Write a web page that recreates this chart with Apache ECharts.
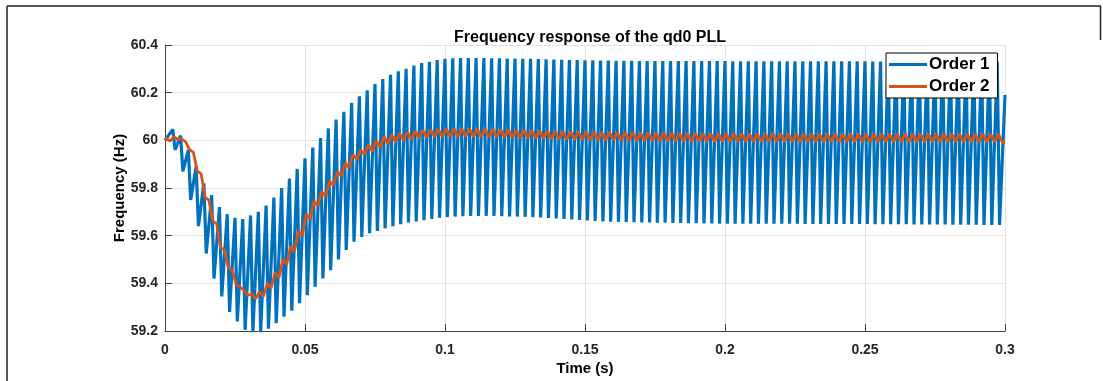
<!DOCTYPE html>
<html>
<head>
<meta charset="utf-8">
<script src="https://cdn.jsdelivr.net/npm/echarts@6/dist/echarts.min.js"></script>
<style>
html,body{margin:0;padding:0;background:#fff;}
#chart{width:1103px;height:381px;}
</style>
</head>
<body>
<div id="chart"></div>
<script>
// ---- data ----
const ripplePeriod = 1 / 360;          // s, ripple period (108 cycles in 0.3 s)
const startValue = 60.0;
const xTicks = [0, 0.05, 0.1, 0.15, 0.2, 0.25, 0.3];
const yTicks = [59.2, 59.4, 59.6, 59.8, 60, 60.2, 60.4];

// Order 1: peak (at k*T) and trough (just after) of each ripple cycle k = 1..107
const order1Peaks = [
 60.046, 60.02, 59.96, 59.89, 59.82, 59.77, 59.72, 59.69, 59.675, 59.67,
 59.685, 59.70, 59.726, 59.76, 59.80, 59.84, 59.88, 59.925, 59.97, 60.01,
 60.05, 60.087, 60.12, 60.157, 60.185, 60.21, 60.236, 60.257, 60.275, 60.29,
 60.30, 60.314, 60.324, 60.33, 60.337, 60.342, 60.344, 60.345, 60.345, 60.345,
 60.345, 60.344, 60.344, 60.343, 60.343, 60.342, 60.342, 60.341, 60.340, 60.339,
 60.338, 60.337, 60.337, 60.336, 60.336, 60.335, 60.335, 60.334, 60.334, 60.334,
 60.333, 60.333, 60.333, 60.333, 60.333, 60.333, 60.333, 60.333, 60.333, 60.333,
 60.333, 60.333, 60.332, 60.332, 60.332, 60.332, 60.332, 60.332, 60.332, 60.332,
 60.332, 60.332, 60.332, 60.332, 60.332, 60.332, 60.332, 60.332, 60.332, 60.332,
 60.331, 60.331, 60.331, 60.331, 60.331, 60.331, 60.331, 60.331, 60.331, 60.331,
 60.331, 60.331, 60.33, 60.33, 60.33, 60.33, 60.331
];
const order1Troughs = [
 59.96, 59.87, 59.75, 59.64, 59.525, 59.42, 59.345, 59.28, 59.24, 59.205,
 59.195, 59.195, 59.21, 59.233, 59.26, 59.285, 59.317, 59.35, 59.386, 59.42,
 59.455, 59.50, 59.54, 59.575, 59.595, 59.61, 59.62, 59.63, 59.64, 59.648,
 59.655, 59.66, 59.665, 59.67, 59.675, 59.678, 59.68, 59.682, 59.683, 59.683,
 59.683, 59.683, 59.682, 59.681, 59.68, 59.679, 59.678, 59.676, 59.674, 59.672,
 59.67, 59.668, 59.666, 59.664, 59.662, 59.66, 59.659, 59.658, 59.657, 59.656,
 59.655, 59.655, 59.654, 59.654, 59.653, 59.653, 59.652, 59.652, 59.651, 59.651,
 59.65, 59.65, 59.65, 59.65, 59.65, 59.65, 59.65, 59.65, 59.65, 59.65,
 59.65, 59.649, 59.649, 59.649, 59.649, 59.649, 59.649, 59.649, 59.649, 59.649,
 59.648, 59.648, 59.648, 59.648, 59.648, 59.647, 59.647, 59.647, 59.647, 59.647,
 59.646, 59.646, 59.646, 59.646, 59.645, 59.645, 59.645
];
const order1End = 60.19;

// Order 2: ripple high and low of each cycle k = 0..107
const order2Highs = [
 60.009, 60.016, 60.006, 59.961, 59.871, 59.761, 59.661, 59.551, 59.466, 59.396,
 59.37, 59.355, 59.365, 59.40, 59.445, 59.50, 59.555, 59.62, 59.69, 59.745,
 59.785, 59.83, 59.87, 59.905, 59.94, 59.96, 59.983, 60.0, 60.015, 60.023,
 60.03, 60.035, 60.04, 60.043, 60.045, 60.046, 60.049, 60.049, 60.049, 60.049,
 60.048, 60.048, 60.047, 60.046, 60.045, 60.044, 60.043, 60.042, 60.041, 60.04,
 60.039, 60.038, 60.037, 60.037, 60.036, 60.035, 60.034, 60.034, 60.033, 60.033,
 60.032, 60.032, 60.032, 60.031, 60.031, 60.031, 60.03, 60.03, 60.03, 60.029,
 60.029, 60.029, 60.029, 60.028, 60.028, 60.028, 60.028, 60.028, 60.028, 60.028,
 60.028, 60.027, 60.027, 60.027, 60.027, 60.027, 60.027, 60.027, 60.027, 60.027,
 60.027, 60.027, 60.027, 60.027, 60.027, 60.027, 60.027, 60.027, 60.027, 60.027,
 60.027, 60.027, 60.027, 60.027, 60.027, 60.027, 60.027, 60.027
];
const order2Lows = [
 59.997, 60.004, 59.994, 59.949, 59.859, 59.749, 59.649, 59.539, 59.454, 59.384,
 59.35, 59.335, 59.345, 59.38, 59.425, 59.48, 59.535, 59.60, 59.67, 59.725,
 59.765, 59.81, 59.85, 59.885, 59.92, 59.94, 59.953, 59.97, 59.985, 59.993,
 60.0, 60.005, 60.01, 60.013, 60.015, 60.016, 60.015, 60.015, 60.015, 60.015,
 60.014, 60.014, 60.013, 60.012, 60.011, 60.01, 60.009, 60.008, 60.007, 60.006,
 60.005, 60.004, 60.003, 60.003, 60.002, 60.001, 60.0, 60.0, 59.999, 59.999,
 59.998, 59.998, 59.998, 59.997, 59.997, 59.997, 59.996, 59.996, 59.996, 59.995,
 59.995, 59.995, 59.995, 59.994, 59.994, 59.994, 59.994, 59.994, 59.994, 59.994,
 59.994, 59.993, 59.993, 59.993, 59.993, 59.993, 59.993, 59.993, 59.993, 59.993,
 59.993, 59.993, 59.993, 59.993, 59.993, 59.993, 59.993, 59.993, 59.993, 59.993,
 59.993, 59.993, 59.993, 59.993, 59.993, 59.993, 59.993, 59.993
];
const order2End = 59.995;
const seriesNames = ['Order 1', 'Order 2'];

// ---- build series (x = time of each ripple extreme) ----
const T = ripplePeriod;
const tEnd = xTicks[xTicks.length - 1];
const order1 = [[0, startValue]];
for (let i = 0; i < order1Peaks.length; i++) {
  const k = i + 1;
  order1.push([k * T, order1Peaks[i]]);
  order1.push([(k + 0.3) * T, order1Troughs[i]]);
}
order1.push([tEnd, order1End]);

const order2 = [[0, startValue]];
for (let k = 0; k < order2Highs.length; k++) {
  order2.push([(k + 0.15) * T, order2Highs[k]]);
  order2.push([(k + 0.65) * T, order2Lows[k]]);
}
order2.push([tEnd, order2End]);

const FONT = '"Liberation Sans", Arial, Helvetica, sans-serif';
const chart = echarts.init(document.getElementById('chart'), null, {renderer: 'canvas'});
chart.setOption({
  animation: false,
  backgroundColor: '#fff',
  textStyle: {fontFamily: FONT},
  title: {
    text: 'Frequency response of the qd0 PLL',
    left: 585, top: 25, textAlign: 'center',
    textStyle: {fontSize: 16, fontWeight: 'bold', color: '#000', fontFamily: FONT}
  },
  grid: {left: 165, right: 98, top: 45, bottom: 48, containLabel: false},
  legend: {
    data: seriesNames,
    orient: 'vertical',
    left: 886, top: 53,
    backgroundColor: '#fff',
    borderColor: '#000', borderWidth: 1,
    padding: [3, 8, 3, 3],
    itemGap: 5,
    itemWidth: 38, itemHeight: 3,
    icon: 'rect',
    textStyle: {fontSize: 17, fontWeight: 'bold', color: '#000', fontFamily: FONT, padding: [0,0,0,-3]}
  },
  xAxis: {
    type: 'value', min: xTicks[0], max: tEnd, interval: 0.05,
    name: 'Time (s)', nameLocation: 'middle', nameGap: 30, nameMoveOverlap: false,
    nameTextStyle: {fontSize: 15, fontWeight: 'bold', color: '#000', fontFamily: FONT},
    axisLine: {show: true, onZero: false, lineStyle: {color: '#404040', width: 1}},
    axisTick: {show: true, inside: true, length: 7, lineStyle: {color: '#404040'}},
    axisLabel: {fontSize: 14, fontWeight: 'bold', color: '#262626', margin: 12, fontFamily: FONT,
      formatter: v => String(+v.toFixed(2))},
    splitLine: {show: true, lineStyle: {color: '#e2e2e2', width: 1}}
  },
  yAxis: {
    type: 'value', min: yTicks[0], max: yTicks[yTicks.length - 1], interval: 0.2,
    name: 'Frequency (Hz)', nameLocation: 'middle', nameGap: 38, nameMoveOverlap: false,
    nameTextStyle: {fontSize: 15, fontWeight: 'bold', color: '#000', fontFamily: FONT},
    axisLine: {show: true, onZero: false, lineStyle: {color: '#404040', width: 1}},
    axisTick: {show: true, inside: true, length: 7, lineStyle: {color: '#404040'}},
    axisLabel: {fontSize: 14, fontWeight: 'bold', color: '#262626', margin: 7, fontFamily: FONT,
      formatter: v => String(+v.toFixed(1))},
    splitLine: {show: true, lineStyle: {color: '#e2e2e2', width: 1}}
  },
  series: [
    {name: seriesNames[0], type: 'line', data: order1, showSymbol: false, symbol: 'none',
     clip: true, color: '#0072BD', lineStyle: {color: '#0072BD', width: 3.2}, z: 2},
    {name: seriesNames[1], type: 'line', data: order2, showSymbol: false, symbol: 'none',
     clip: true, color: '#D95319', lineStyle: {color: '#D95319', width: 2.8}, z: 3}
  ],
  graphic: [
    {type: 'line', shape: {x1: 7, y1: 6, x2: 1101, y2: 6}, style: {stroke: '#222', lineWidth: 1.5}},
    {type: 'line', shape: {x1: 7, y1: 6, x2: 7, y2: 381}, style: {stroke: '#222', lineWidth: 1.5}},
    {type: 'line', shape: {x1: 1100.5, y1: 6, x2: 1100.5, y2: 40}, style: {stroke: '#222', lineWidth: 1.5}}
  ]
});
</script>
</body>
</html>
